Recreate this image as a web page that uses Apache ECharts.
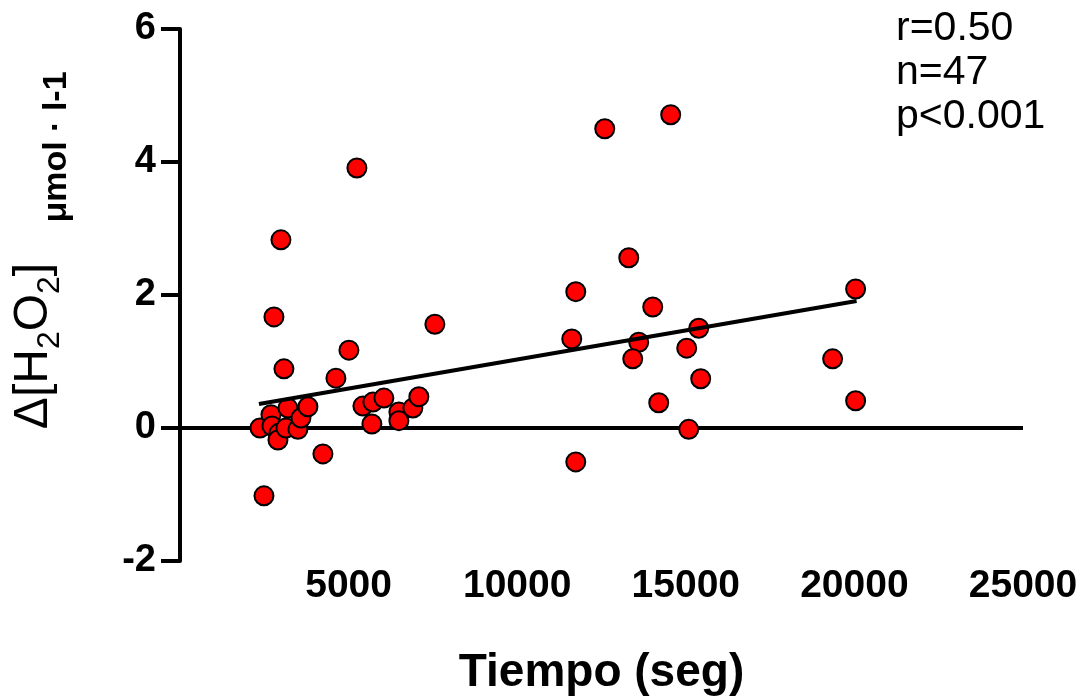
<!DOCTYPE html>
<html>
<head>
<meta charset="utf-8">
<script src="https://cdn.jsdelivr.net/npm/echarts@6/dist/echarts.min.js"></script>
<style>
  html, body { margin: 0; padding: 0; background: #fff; }
  #chart { width: 1088px; height: 697px; }
</style>
</head>
<body>
<div id="chart"></div>
<script>
// tiempo (seg) de cada medida
var tiempo = [2786, 5009, 3082, 4624, 7558, 2371, 2697, 2727, 2934, 2905,
              3142, 3201, 3497, 3586, 3794, 4238, 2490, 5424, 5720, 6046,
              5690, 6491, 6491, 6906, 7083, 2993, 5246,
              12596, 14552, 13308, 11737, 14019, 20036, 11618, 13604, 15383, 15027,
              13426, 19354, 15442, 14197, 20036, 15086, 11737]
// delta H2O2 (umol/l)
var deltaH2O2 = [1.67, 1.17, 0.89, 0.75, 1.56, 0.00, 0.20, 0.03, -0.08, -0.18,
                 0.00, 0.30, -0.02, 0.15, 0.32, -0.39, -1.02, 0.33, 0.39, 0.45,
                 0.06, 0.24, 0.11, 0.30, 0.47, 2.83, 3.91,
                 4.50, 4.71, 2.56, 2.05, 1.82, 2.09, 1.34, 1.29, 1.50, 1.20,
                 1.04, 1.04, 0.74, 0.38, 0.41, -0.02, -0.51]
// recta de regresion
var regX = [2341, 20065]
var regY = [0.36, 1.91]
var zeroX = [0, 25000]
var xTicks = [0, 5000, 10000, 15000, 20000, 25000]
var stats = ['r=0.50', 'n=47', 'p<0.001']

var chart = echarts.init(document.getElementById('chart'))
var font = '"Liberation Sans", Arial, sans-serif'

chart.setOption({
    animation: false,
    grid: {left: 180, right: 65, top: 29, bottom: 136, containLabel: false, outerBoundsMode: 'none'},
    xAxis: {
        type: 'value',
        min: xTicks[0],
        max: xTicks[xTicks.length - 1],
        interval: 5000,
        name: 'Tiempo (seg)',
        nameLocation: 'middle',
        nameGap: 89,
        nameTextStyle: {fontFamily: font, fontWeight: 'bold', fontSize: 46, color: '#000'},
        axisLine: {show: false},
        axisTick: {show: false},
        splitLine: {show: false},
        axisLabel: {
            showMinLabel: false,
            margin: 6,
            formatter: function (v) { return String(v) },
            fontFamily: font, fontWeight: 'bold', fontSize: 39, color: '#000'
        }
    },
    yAxis: {
        type: 'value',
        min: -2,
        max: 6,
        interval: 2,
        axisLine: {show: true, lineStyle: {color: '#000', width: 4}},
        axisTick: {show: true, inside: false, length: 19, lineStyle: {color: '#000', width: 4}},
        splitLine: {show: false},
        axisLabel: {
            margin: 24,
            fontFamily: font, fontWeight: 'bold', fontSize: 38, color: '#000'
        }
    },
    graphic: [
        {
            type: 'text',
            x: 38, y: 346,
            rotation: Math.PI / 2,
            style: {
                text: '{n|Δ[H}{s|2}{n|O}{s|2}{n|]}',
                textAlign: 'center',
                textVerticalAlign: 'middle',
                rich: {
                    n: {fontFamily: font, fontSize: 48, color: '#000', verticalAlign: 'top', lineHeight: 48},
                    s: {fontFamily: font, fontSize: 32, color: '#000', verticalAlign: 'top', padding: [24, 0, 0, 0]}
                }
            }
        },
        {
            type: 'text',
            x: 57, y: 147,
            rotation: Math.PI / 2,
            style: {
                text: 'μmol · l-1',
                textAlign: 'center',
                textVerticalAlign: 'middle',
                fontFamily: font, fontWeight: 'bold', fontSize: 34, fill: '#000'
            }
        },
        {
            type: 'text',
            left: 896, top: 7,
            style: {
                text: stats.join('\n'),
                fontFamily: font, fontSize: 41, lineHeight: 44, fill: '#000'
            }
        }
    ],
    series: [
        {
            type: 'line',
            z: 1,
            symbol: 'none',
            data: zeroX.map(function (x) { return [x, 0] }),
            lineStyle: {color: '#000', width: 4}
        },
        {
            type: 'scatter',
            z: 2,
            symbol: 'circle',
            symbolSize: 19,
            data: tiempo.map(function (x, i) { return [x, deltaH2O2[i]] }),
            itemStyle: {color: '#ff0000', borderColor: '#000', borderWidth: 2, opacity: 1}
        },
        {
            type: 'line',
            z: 3,
            symbol: 'none',
            data: regX.map(function (x, i) { return [x, regY[i]] }),
            lineStyle: {color: '#000', width: 4}
        }
    ]
})
</script>
</body>
</html>
